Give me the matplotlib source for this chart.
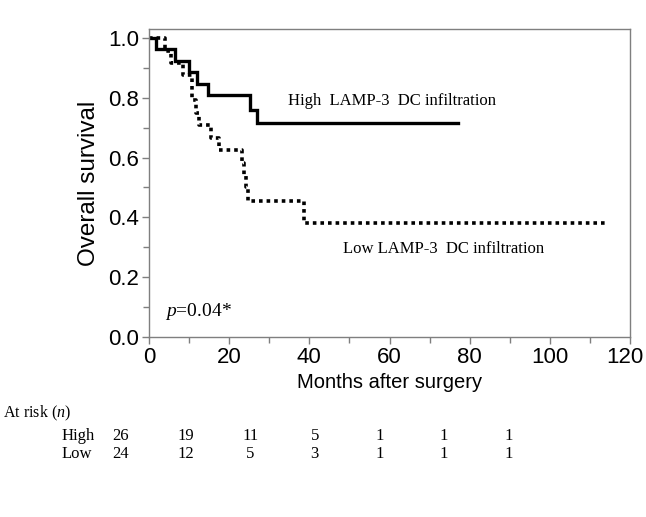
import matplotlib
matplotlib.use("Agg")
import matplotlib.pyplot as plt
import matplotlib.transforms as mtransforms
import numpy as np

# Kaplan-Meier steps
high_t = [0, 1.75, 6.5, 10, 12, 14.8, 25.25, 26.9]
high_s = [1.0, 0.962, 0.923, 0.885, 0.846, 0.808, 0.76, 0.715]
high_end = 77

low_t = [0, 4, 5.5, 8.5, 10.7, 11.8, 12.5, 15.5, 17.5, 23.2, 23.8, 24.3, 24.8, 38.6]
low_s = [1.0, 0.958, 0.917, 0.875, 0.792, 0.75, 0.708, 0.667, 0.625, 0.583, 0.542, 0.5, 0.455, 0.38]
low_end = 114.5

risk_groups = ["High", "Low"]
risk_high = [26, 19, 11, 5, 1, 1, 1]
risk_low = [24, 12, 5, 3, 1, 1, 1]

plt.rcParams["mathtext.fontset"] = "custom"
plt.rcParams["mathtext.rm"] = "Liberation Serif"
plt.rcParams["mathtext.it"] = "Liberation Serif:italic"

W, H = 646, 517
fig = plt.figure(figsize=(W / 100, H / 100), dpi=100)
ax = fig.add_axes([149 / W, 1 - 337 / H, (630 - 149) / W, (337 - 29) / H])

grey = "#7f7f7f"


def km(t, s, end):
    return np.append(t, end), np.append(s, s[-1])


x, y = km(high_t, high_s, high_end)
ax.step(x, y, where="post", color="black", lw=2.4, solid_joinstyle="miter")
x, y = km(low_t, low_s, low_end)
ax.step(x, y, where="post", color="black", lw=2.6, linestyle=(0, (1, 1.1)))

ax.set_xlim(0, 120)
ax.set_ylim(0, 1.03)
ax.set_xticks(np.arange(0, 121, 20))
ax.set_xticks(np.arange(10, 120, 20), minor=True)
ax.set_yticks(np.arange(0, 1.01, 0.2))
ax.set_yticks(np.arange(0.1, 1.0, 0.2), minor=True)
ax.set_yticklabels(["%.1f" % v for v in np.arange(0, 1.01, 0.2)])
for s in ax.spines.values():
    s.set_color(grey)
    s.set_linewidth(1.0)
ax.tick_params(which="both", direction="out", color=grey, width=1.0)
ax.tick_params(which="major", length=5, labelsize=16, pad=2)
ax.tick_params(which="minor", length=4)
for lab in ax.get_xticklabels() + ax.get_yticklabels():
    lab.set_family("Liberation Sans")
# keep the last x label inside the canvas
last = ax.get_xticklabels()[-1]
last.set_transform(last.get_transform() + mtransforms.ScaledTranslation(-5 / 100, 0, fig.dpi_scale_trans))

ax.set_ylabel("Overall survival", fontsize=17.5, family="Liberation Sans", labelpad=6)
ax.set_xlabel("Months after surgery", fontsize=14.5, family="Liberation Sans", labelpad=4)

serif = "Liberation Serif"
ax.text(34.7, 0.79, "High  LAMP-3  DC infiltration", fontsize=12, family=serif, va="center")
ax.text(48.5, 0.295, "Low LAMP-3  DC infiltration", fontsize=12, family=serif, va="center")
ax.text(4, 0.084, r"$p$=0.04*", fontsize=14, family=serif, va="center")

# at-risk table
fig.text(3 / W, 1 - 413 / H, r"At risk ($n$)", fontsize=11.5, family=serif, va="center")
col_x = 121 + 64.6 * np.arange(len(risk_high))
for row, (name, vals) in enumerate(zip(risk_groups, [risk_high, risk_low])):
    yy = 1 - (436 + 18 * row) / H
    fig.text(62 / W, yy, name, fontsize=12, family=serif, va="center")
    for cx, v in zip(col_x, vals):
        fig.text(cx / W, yy, str(v), fontsize=12, family=serif, va="center", ha="center")

fig.savefig("out.png", dpi=100)
